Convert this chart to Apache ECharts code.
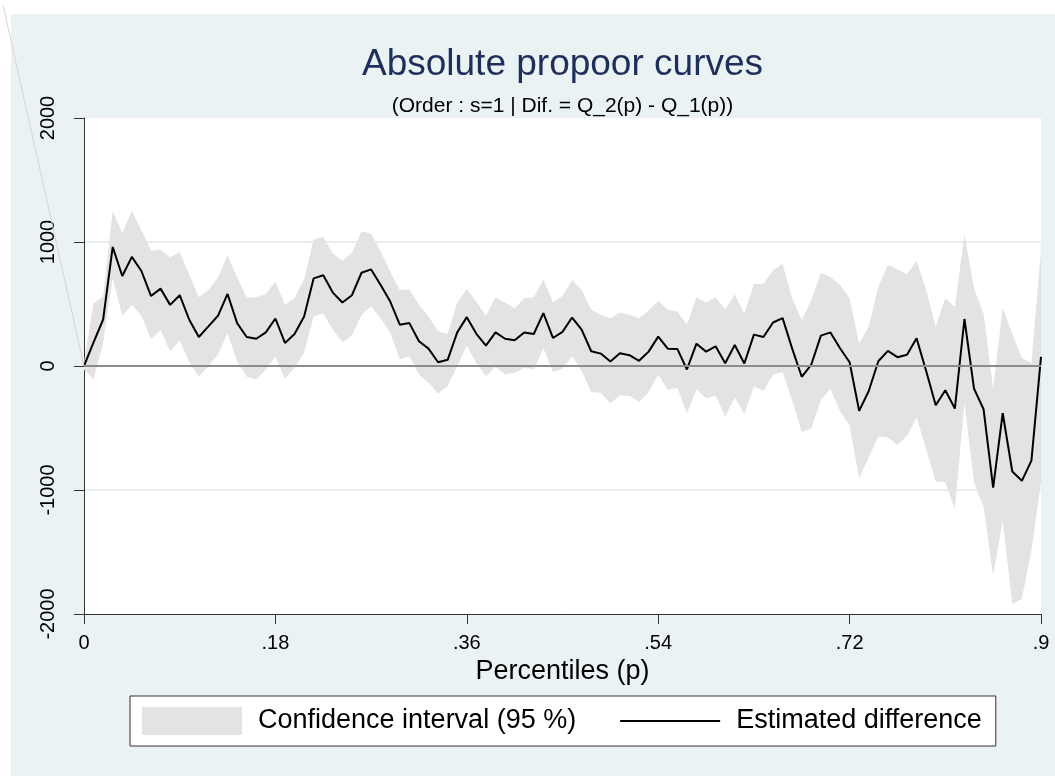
<!DOCTYPE html>
<html>
<head>
<meta charset="utf-8">
<title>Absolute propoor curves</title>
<script src="https://cdn.jsdelivr.net/npm/echarts@6/dist/echarts.min.js"></script>
<style>
  html, body { margin: 0; padding: 0; background: #ffffff; }
  #chart { width: 1055px; height: 776px; }
</style>
</head>
<body>
<div id="chart"></div>
<script>
// Percentile grid p
const percentiles = [
  0, .009, .018, .027, .036, .045, .054, .063, .072, .081,
  .09, .099, .108, .117, .126, .135, .144, .153, .162, .171,
  .18, .189, .198, .207, .216, .225, .234, .243, .252, .261,
  .27, .279, .288, .297, .306, .315, .324, .333, .342, .351,
  .36, .369, .378, .387, .396, .405, .414, .423, .432, .441,
  .45, .459, .468, .477, .486, .495, .504, .513, .522, .531,
  .54, .549, .558, .567, .576, .585, .594, .603, .612, .621,
  .63, .639, .648, .657, .666, .675, .684, .693, .702, .711,
  .72, .729, .738, .747, .756, .765, .774, .783, .792, .801,
  .81, .819, .828, .837, .846, .855, .864, .873, .882, .891,
  .9
];

// Estimated difference Q_2(p) - Q_1(p)
const estDiff = [
  0, 190, 375, 960, 726, 880, 766, 565, 624, 493,
  571, 373, 234, 319, 405, 581, 346, 234, 220, 271,
  383, 186, 258, 399, 707, 732, 592, 512, 571, 752,
  779, 654, 520, 333, 346, 199, 140, 30, 50, 271,
  394, 260, 164, 271, 220, 207, 271, 258, 426, 226,
  275, 391, 293, 119, 100, 36, 103, 87, 42, 116,
  237, 140, 138, -28, 180, 116, 159, 22, 170, 20,
  253, 234, 351, 386, 140, -87, 12, 245, 271, 143,
  30, -362, -202, 38, 122, 71, 90, 223, -40, -317,
  -196, -343, 379, -183, -349, -980, -381, -851, -926, -763,
  74
];

// Upper bound of the 95 % confidence interval
const ciUpper = [
  30, 507, 560, 1250, 1068, 1255, 1095, 929, 940, 875,
  921, 734, 555, 613, 715, 891, 715, 555, 555, 581,
  680, 493, 547, 699, 1020, 1041, 908, 849, 913, 1084,
  1068, 921, 761, 613, 619, 493, 400, 279, 261, 512,
  619, 520, 405, 555, 512, 466, 547, 555, 699, 512,
  565, 694, 613, 453, 413, 386, 432, 413, 386, 448,
  525, 453, 440, 333, 552, 512, 555, 458, 579, 421,
  662, 662, 774, 822, 547, 368, 533, 752, 715, 654,
  547, 182, 319, 640, 814, 779, 742, 849, 613, 319,
  547, 475, 1063, 627, 421, -183, 466, 261, 65, 25,
  929
];

// Lower bound of the 95 % confidence interval
const ciLower = [
  -30, -108, 186, 707, 405, 493, 405, 218, 293, 119,
  207, 31, -87, -1, 92, 266, 39, -87, -108, -28,
  74, -103, -15, 106, 400, 426, 293, 191, 245, 413,
  480, 386, 266, 52, 79, -68, -135, -221, -162, -1,
  164, 25, -82, -7, -68, -55, -15, -28, 146, -49,
  -20, 79, -41, -210, -215, -301, -237, -242, -290, -210,
  -68, -194, -175, -381, -188, -263, -237, -408, -255, -389,
  -162, -202, -68, -49, -280, -531, -504, -274, -183, -362,
  -482, -905, -737, -568, -576, -637, -563, -416, -670, -932,
  -937, -1151, -295, -937, -1138, -1691, -1244, -1921, -1878, -1485,
  -937
];

const xTickLabels = ['0', '.18', '.36', '.54', '.72', '.9'];
const yTickLabels = ['-2000', '-1000', '0', '1000', '2000'];

const FONT = '"Liberation Sans", Arial, Helvetica, sans-serif';
const BAND = '#e3e3e3';
const AXIS = '#333333';

// plot region (pixels)
const PLOT = { left: 84, top: 118, right: 1041, bottom: 614 };
const plotCenterX = (PLOT.left + PLOT.right) / 2;

const pairs = ys => percentiles.map((p, i) => [p, ys[i]]);

// confidence band: one polygon along the upper bound and back along the lower bound
function renderBand(params, api) {
  if (params.dataIndex !== 0) return null;
  const pts = [];
  for (let i = 0; i < percentiles.length; i++) pts.push(api.coord([percentiles[i], ciUpper[i]]));
  for (let i = percentiles.length - 1; i >= 0; i--) pts.push(api.coord([percentiles[i], ciLower[i]]));
  return {
    type: 'polygon',
    shape: { points: pts },
    style: { fill: BAND, stroke: null }
  };
}

const chart = echarts.init(document.getElementById('chart'), null, { renderer: 'canvas' });

chart.setOption({
  animation: false,
  backgroundColor: '#eaf2f3',
  textStyle: { fontFamily: FONT },
  grid: {
    left: PLOT.left,
    top: PLOT.top,
    width: PLOT.right - PLOT.left,
    height: PLOT.bottom - PLOT.top,
    show: true,
    backgroundColor: '#ffffff',
    borderWidth: 0,
    containLabel: false
  },
  xAxis: {
    type: 'value',
    min: 0,
    max: 0.9,
    interval: 0.18,
    axisLine: { show: true, onZero: false, lineStyle: { color: AXIS, width: 1 } },
    axisTick: { show: true, length: 10, lineStyle: { color: AXIS, width: 1 } },
    axisLabel: {
      fontSize: 20, color: '#000', fontFamily: FONT, margin: 19,
      formatter: v => xTickLabels[Math.round(v / 0.18)]
    },
    splitLine: { show: false },
    name: 'Percentiles (p)',
    nameLocation: 'middle',
    nameGap: 36,
    nameTextStyle: { fontSize: 27, color: '#000', fontFamily: FONT }
  },
  yAxis: {
    type: 'value',
    min: -2000,
    max: 2000,
    interval: 1000,
    axisLine: { show: true, onZero: false, lineStyle: { color: AXIS, width: 1 } },
    axisTick: { show: true, length: 10, lineStyle: { color: AXIS, width: 1 } },
    axisLabel: {
      rotate: 90, fontSize: 20, color: '#000', fontFamily: FONT, margin: 26,
      formatter: v => yTickLabels[Math.round((v + 2000) / 1000)]
    },
    splitLine: {
      show: true,
      lineStyle: {
        width: 2,
        color: ['rgba(0,0,0,0)', '#e6eef1', 'rgba(0,0,0,0)', '#e6eef1', 'rgba(0,0,0,0)']
      }
    }
  },
  legend: {
    left: 130,
    top: 696,
    orient: 'horizontal',
    padding: [11, 14, 11, 12],
    backgroundColor: '#ffffff',
    borderColor: AXIS,
    borderWidth: 1,
    borderRadius: 0,
    itemWidth: 100,
    itemHeight: 28,
    itemGap: 44,
    selectedMode: false,
    textStyle: { fontSize: 27, color: '#000', fontFamily: FONT, padding: [0, 0, 0, 11] },
    data: [
      { name: 'Confidence interval (95 %)', icon: 'rect', itemStyle: { color: BAND, borderWidth: 0 } },
      { name: 'Estimated difference', icon: 'path://M0,0H100V2.2H0Z', itemStyle: { color: '#000', borderWidth: 0 } }
    ]
  },
  graphic: [
    { type: 'rect', id: 'marginTop', shape: { x: 0, y: 0, width: 1055, height: 14 }, style: { fill: '#ffffff' }, silent: true },
    { type: 'rect', id: 'marginLeft', shape: { x: 0, y: 0, width: 11, height: 776 }, style: { fill: '#ffffff' }, silent: true },
    {
      type: 'text', id: 'title', x: plotCenterX, y: 65, silent: true,
      style: { text: 'Absolute propoor curves', font: '37px ' + FONT, fill: '#1f2f5c', textAlign: 'center', textVerticalAlign: 'middle' }
    },
    {
      type: 'text', id: 'subtitle', x: plotCenterX, y: 106.5, silent: true,
      style: { text: '(Order : s=1 | Dif. = Q_2(p) - Q_1(p))', font: '21px ' + FONT, fill: '#000', textAlign: 'center', textVerticalAlign: 'middle' }
    }
  ],
  series: [
    {
      name: 'Confidence interval (95 %)',
      type: 'custom',
      renderItem: renderBand,
      data: percentiles.map((p, i) => [p, ciUpper[i], ciLower[i]]),
      encode: { x: 0, y: [1, 2] },
      silent: true,
      clip: true,
      itemStyle: { color: BAND },
      z: 2,
      markLine: {
        silent: true,
        symbol: 'none',
        label: { show: false },
        lineStyle: { color: '#8c8c8c', width: 2, type: 'solid' },
        data: [{ yAxis: 0 }]
      }
    },
    {
      name: 'Estimated difference',
      type: 'line',
      data: pairs(estDiff),
      symbol: 'none',
      silent: true,
      color: '#000',
      lineStyle: { color: '#000', width: 2 },
      z: 3
    }
  ]
});

// faint stroke running from the origin of the plot up to the top-left corner
const origin = chart.convertToPixel({ gridIndex: 0 }, [0, 0]);
chart.setOption({
  graphic: [
    {
      type: 'line', id: 'cornerStroke', silent: true, z: 10,
      shape: { x1: origin[0], y1: origin[1], x2: 3, y2: 5 },
      style: { stroke: '#d6d6d6', lineWidth: 1 }
    }
  ]
});
</script>
</body>
</html>
